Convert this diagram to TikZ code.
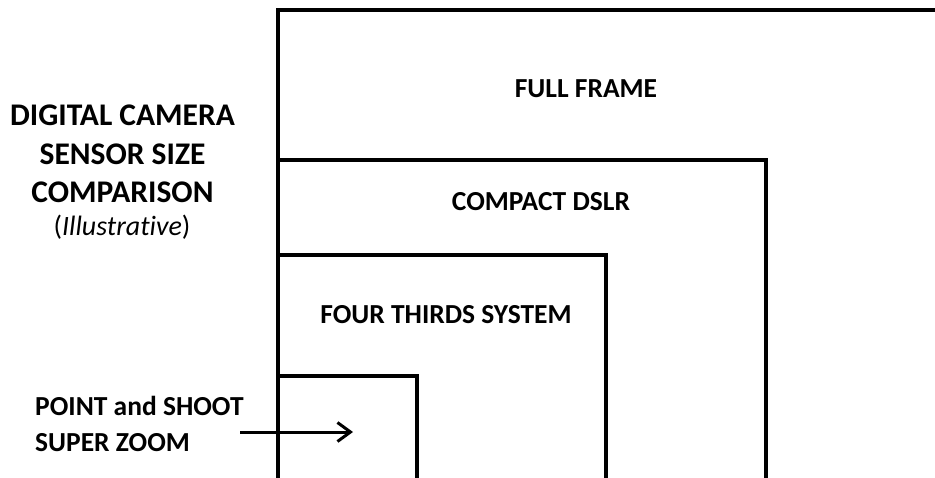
\documentclass[tikz,border=0pt]{standalone}
\usepackage{fontspec}
\setmainfont[Ligatures={NoCommon,NoRare,NoContextual}]{Carlito}
\usetikzlibrary{arrows.meta}
\tikzset{
  frame/.style={line width=3.6pt, line cap=rect},
  title/.style={font=\bfseries\fontsize{31.5}{36}\selectfont, anchor=base, inner sep=0pt},
  label/.style={font=\bfseries\fontsize{27.5}{32}\selectfont, anchor=base, inner sep=0pt},
  pointer/.style={line width=3pt, -{Straight Barb[length=13pt,width=19pt,line width=3pt]}}
}
\begin{document}
\begin{tikzpicture}[x=1pt,y=-1pt]
\useasboundingbox (0,0) rectangle (935,477);
\fill[white] (0,0) rectangle (935,477);
% frames
\draw[frame] (940,10) -- (278,10) -- (278,482);
\draw[frame] (278,160) -- (766,160) -- (766,482);
\draw[frame] (278,255) -- (606,255) -- (606,482);
\draw[frame] (278,376) -- (417,376) -- (417,482);
% labels
\node[title] (t1) at (122.5,125) {DIGITAL CAMERA};
\node[title] (t2) at (122.5,164) {SENSOR SIZE};
\node[title] (t3) at (122.5,202) {COMPARISON};
\node[font=\fontsize{28}{32}\selectfont, anchor=base, inner sep=0pt] (t4) at (122,235) {(\textit{Illustrative})};
\node[label] (ff) at (586,97) {FULL FRAME};
\node[label] (cd) at (541,210) {COMPACT DSLR};
\node[label] (ft) at (446,323) {FOUR THIRDS SYSTEM};
\node[label, anchor=base west] (ps1) at (35,415) {POINT and SHOOT};
\node[label, anchor=base west] (ps2) at (35,451) {SUPER ZOOM};
\coordinate (as) at (240,432);
\coordinate (ae) at (353,432);
\draw[pointer] (as) -- (ae);
\end{tikzpicture}
\end{document}
